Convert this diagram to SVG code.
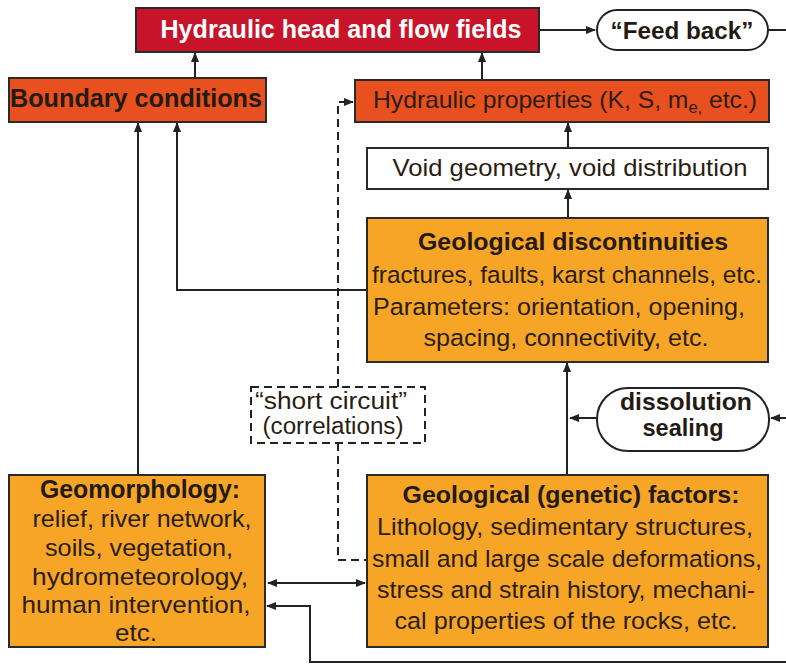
<svg xmlns="http://www.w3.org/2000/svg" width="786" height="664" viewBox="0 0 786 664">
<defs>
<marker id="ah" markerWidth="10" markerHeight="8" refX="9" refY="4" orient="auto" markerUnits="userSpaceOnUse">
<path d="M0,0 L10,4 L0,8 Z" fill="#222"/>
</marker>
<marker id="ahs" markerWidth="10" markerHeight="8" refX="1" refY="4" orient="auto" markerUnits="userSpaceOnUse">
<path d="M10,0 L0,4 L10,8 Z" fill="#222"/>
</marker>
<style>
.box{stroke:#2a2a2a;stroke-width:2}
.red{fill:#c8142a}
.ored{fill:#e8501f}
.org{fill:#f6a527}
.wht{fill:#ffffff}
.pill{fill:#ffffff;stroke:#222;stroke-width:2}
.ln{fill:none;stroke:#222;stroke-width:2}
.dash{fill:none;stroke:#222;stroke-width:2;stroke-dasharray:8,5}
.b{font-family:"Liberation Sans",Arial,sans-serif;font-weight:bold;fill:#231a12}
.r{font-family:"Liberation Sans",Arial,sans-serif;fill:#2a1d12}
</style>
</defs>
<rect width="786" height="664" fill="#ffffff"/>
<g id="connectors">
<path class="ln" d="M539,30 H595" marker-end="url(#ah)"/>
<path class="ln" d="M768,30 H786"/>
<path class="ln" d="M195,78 V53" marker-end="url(#ah)"/>
<path class="ln" d="M482,80 V53" marker-end="url(#ah)"/>
<path class="ln" d="M568,148 V123" marker-end="url(#ah)"/>
<path class="ln" d="M568,218 V190" marker-end="url(#ah)"/>
<path class="ln" d="M367,290 H177 V123" marker-end="url(#ah)"/>
<path class="ln" d="M138,475 V123" marker-end="url(#ah)"/>
<path class="ln" d="M567,475 V363" marker-end="url(#ah)"/>
<path class="ln" d="M597,418 H570" marker-end="url(#ah)"/>
<path class="ln" d="M786,418 H771" marker-end="url(#ah)"/>
<path class="ln" d="M268,583 H365" marker-start="url(#ahs)" marker-end="url(#ah)"/>
<path class="ln" d="M786,662 H310 V606 H267" marker-end="url(#ah)"/>
<path class="dash" d="M338,387 V102 H353" marker-end="url(#ah)"/>
<path class="dash" d="M338,443 V560 H367"/>
</g>
<g id="hydraulic-head">
<rect class="box red" x="136" y="8" width="403" height="44"/>
<text x="341" y="38" text-anchor="middle" font-family="Liberation Sans,Arial,sans-serif" font-weight="bold" font-size="26" fill="#ffffff" textLength="361" lengthAdjust="spacingAndGlyphs">Hydraulic head and flow fields</text>
</g>
<g id="feed-back">
<rect class="pill" x="597" y="10" width="171" height="40" rx="20"/>
<text class="b" x="682" y="39" text-anchor="middle" font-size="24" textLength="143" lengthAdjust="spacingAndGlyphs">“Feed back”</text>
</g>
<g id="boundary-conditions">
<rect class="box ored" x="9" y="78" width="257" height="44"/>
<text class="b" x="136" y="107" text-anchor="middle" font-size="26" textLength="252" lengthAdjust="spacingAndGlyphs">Boundary conditions</text>
</g>
<g id="hydraulic-properties">
<rect class="box ored" x="355" y="80" width="414" height="42"/>
<text class="r" x="565" y="108" text-anchor="middle" font-size="24" textLength="384" lengthAdjust="spacingAndGlyphs">Hydraulic properties (K, S, m<tspan font-size="16" dy="5">e,</tspan><tspan dy="-5"> etc.)</tspan></text>
</g>
<g id="void-geometry">
<rect class="box wht" x="367" y="148" width="401" height="41"/>
<text class="r" x="570" y="176" text-anchor="middle" font-size="24.5" textLength="355" lengthAdjust="spacingAndGlyphs">Void geometry, void distribution</text>
</g>
<g id="geological-discontinuities">
<rect class="box org" x="367" y="218" width="401" height="144"/>
<text class="b" x="573" y="250" text-anchor="middle" font-size="24.5" textLength="310" lengthAdjust="spacingAndGlyphs">Geological discontinuities</text>
<text class="r" x="567" y="283" text-anchor="middle" font-size="24.5" textLength="390" lengthAdjust="spacingAndGlyphs">fractures, faults, karst channels, etc.</text>
<text class="r" x="559" y="315" text-anchor="middle" font-size="24.5" textLength="372" lengthAdjust="spacingAndGlyphs">Parameters: orientation, opening,</text>
<text class="r" x="566" y="346" text-anchor="middle" font-size="24.5" textLength="285" lengthAdjust="spacingAndGlyphs">spacing, connectivity, etc.</text>
</g>
<g id="short-circuit">
<rect class="dash" x="251" y="387" width="174" height="56" fill="#ffffff"/>
<text class="r" x="331" y="409" text-anchor="middle" font-size="23" textLength="152" lengthAdjust="spacingAndGlyphs">“short circuit”</text>
<text class="r" x="333" y="434" text-anchor="middle" font-size="23" textLength="141" lengthAdjust="spacingAndGlyphs">(correlations)</text>
</g>
<g id="dissolution-sealing">
<rect class="pill" x="597" y="388" width="172" height="63" rx="31"/>
<text class="b" x="686" y="410" text-anchor="middle" font-size="24" textLength="132" lengthAdjust="spacingAndGlyphs">dissolution</text>
<text class="b" x="683" y="436" text-anchor="middle" font-size="24" textLength="81" lengthAdjust="spacingAndGlyphs">sealing</text>
</g>
<g id="geomorphology">
<rect class="box org" x="9" y="475" width="256" height="172"/>
<text class="b" x="140" y="498" text-anchor="middle" font-size="25" textLength="200" lengthAdjust="spacingAndGlyphs">Geomorphology:</text>
<text class="r" x="142" y="527" text-anchor="middle" font-size="24.5" textLength="219" lengthAdjust="spacingAndGlyphs">relief, river network,</text>
<text class="r" x="139" y="556" text-anchor="middle" font-size="24.5" textLength="188" lengthAdjust="spacingAndGlyphs">soils, vegetation,</text>
<text class="r" x="140" y="585" text-anchor="middle" font-size="24.5" textLength="216" lengthAdjust="spacingAndGlyphs">hydrometeorology,</text>
<text class="r" x="136" y="613" text-anchor="middle" font-size="24.5" textLength="229" lengthAdjust="spacingAndGlyphs">human intervention,</text>
<text class="r" x="136" y="641" text-anchor="middle" font-size="24.5" textLength="42" lengthAdjust="spacingAndGlyphs">etc.</text>
</g>
<g id="geological-factors">
<rect class="box org" x="367" y="475" width="401" height="172"/>
<text class="b" x="571" y="503" text-anchor="middle" font-size="24.5" textLength="337" lengthAdjust="spacingAndGlyphs">Geological (genetic) factors:</text>
<text class="r" x="565" y="535" text-anchor="middle" font-size="24.5" textLength="376" lengthAdjust="spacingAndGlyphs">Lithology, sedimentary structures,</text>
<text class="r" x="567" y="567" text-anchor="middle" font-size="24.5" textLength="390" lengthAdjust="spacingAndGlyphs">small and large scale deformations,</text>
<text class="r" x="566" y="598" text-anchor="middle" font-size="24.5" textLength="378" lengthAdjust="spacingAndGlyphs">stress and strain history, mechani-</text>
<text class="r" x="566" y="629" text-anchor="middle" font-size="24.5" textLength="343" lengthAdjust="spacingAndGlyphs">cal properties of the rocks, etc.</text>
</g>
</svg>
